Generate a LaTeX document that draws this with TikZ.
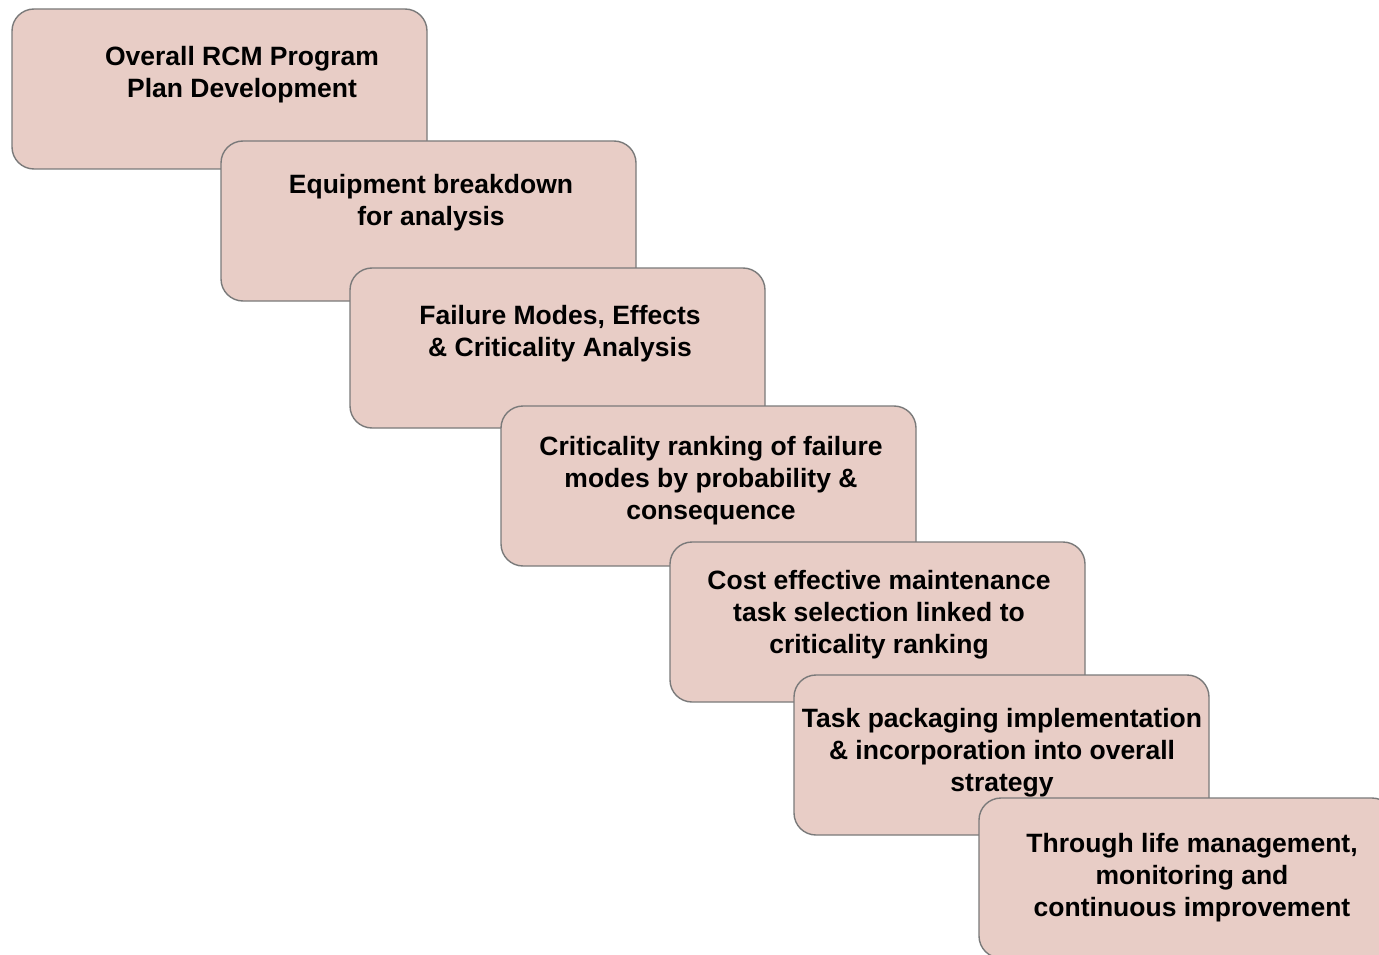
\documentclass[tikz,border=0pt]{standalone}
\usepackage{fontspec}
\setmainfont{Liberation Sans}
\usetikzlibrary{positioning, calc}
\definecolor{stepfill}{HTML}{E8CDC6}
\definecolor{stepline}{HTML}{7A7A7A}
\tikzset{%
   % one rounded step of the staircase
   stepbox/.style={
      rectangle,
      rounded corners=22pt,
      draw=stepline,
      fill=stepfill,
      line width=1.4pt,
      inner sep=0pt,
      outer sep=0pt,
      minimum width=415pt,
      minimum height=160pt,
      anchor=north west
   },
   steptext/.style={
      align=center,
      inner sep=0pt,
      font=\fontsize{26.5}{32}\selectfont\bfseries
   },
}

\begin{document}
\begin{tikzpicture}[x=1pt, y=-1pt]
  \useasboundingbox (0,0) rectangle (1379,955);
  \clip (0,0) rectangle (1379,955);
  \node[stepbox] (b1) at (12,9)    {};
  \node[steptext] (t1) at (242,75) {Overall RCM Program\\Plan Development};
  \node[stepbox] (b2) at (221,141) {};
  \node[steptext] (t2) at (431,203) {Equipment breakdown\\for analysis};
  \node[stepbox] (b3) at (350,268) {};
  \node[steptext] (t3) at (560,334) {Failure Modes, Effects\\\& Criticality Analysis};
  \node[stepbox] (b4) at (501,406) {};
  \node[steptext] (t4) at (711,481) {Criticality ranking of failure\\modes by probability \&\\consequence};
  \node[stepbox] (b5) at (670,542) {};
  \node[steptext] (t5) at (879,615) {Cost effective maintenance\\task selection linked to\\criticality ranking};
  \node[stepbox] (b6) at (794,675) {};
  \node[steptext] (t6) at (1002,753) {Task packaging implementation\\\& incorporation into overall\\strategy};
  \node[stepbox] (b7) at (979,798) {};
  \node[steptext] (t7) at (1192,878) {Through life management,\\monitoring and\\continuous improvement};
\end{tikzpicture}
\end{document}
